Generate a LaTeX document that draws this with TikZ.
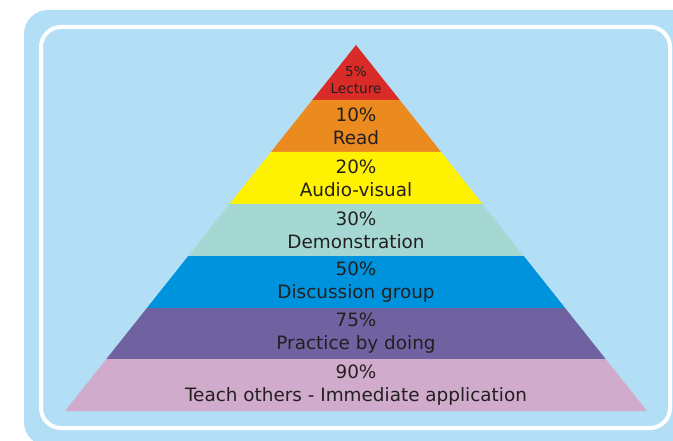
\documentclass[tikz,border=0pt]{standalone}
\usepackage{fontspec}
\setmainfont{DejaVu Sans}
\definecolor{bgblue}{HTML}{B3DFF6}
\definecolor{lvA}{HTML}{D92B27}
\definecolor{lvB}{HTML}{EA8A1F}
\definecolor{lvC}{HTML}{FFF200}
\definecolor{lvD}{HTML}{A6D8D3}
\definecolor{lvE}{HTML}{0093DD}
\definecolor{lvF}{HTML}{7062A1}
\definecolor{lvG}{HTML}{D0ABCC}
\definecolor{txt}{HTML}{231F20}

\begin{document}
\begin{tikzpicture}[x=0.75pt,y=-0.75pt,lbl/.style={align=center,text=txt,inner sep=0pt,font=\fontsize{13.8}{17.2}\selectfont},lblS/.style={lbl,font=\fontsize{10.2}{13.2}\selectfont}]
\def\cx{356}
\def\ay{45}
\def\by{411}
\def\hb{291}
\pgfmathsetmacro{\sl}{\hb/(\by-\ay)}
% half width of the pyramid at height #1
\def\hw#1{(\sl*(#1-\ay))}

\useasboundingbox (0,0) rectangle (673,441);
\clip (0,0) rectangle (673,441);

\fill[bgblue,rounded corners=18] (24,10) rectangle (720,446);
\draw[white,line width=3pt,rounded corners=15] (41,27) rectangle (670,428);

% bands, top to bottom
\fill[lvA] (\cx,\ay) -- ({\cx+\hw{100}},100) -- ({\cx-\hw{100}},100) -- cycle;
\fill[lvB] ({\cx-\hw{100}},100) -- ({\cx+\hw{100}},100) -- ({\cx+\hw{152}},152) -- ({\cx-\hw{152}},152) -- cycle;
\fill[lvC] ({\cx-\hw{152}},152) -- ({\cx+\hw{152}},152) -- ({\cx+\hw{204}},204) -- ({\cx-\hw{204}},204) -- cycle;
\fill[lvD] ({\cx-\hw{204}},204) -- ({\cx+\hw{204}},204) -- ({\cx+\hw{256}},256) -- ({\cx-\hw{256}},256) -- cycle;
\fill[lvE] ({\cx-\hw{256}},256) -- ({\cx+\hw{256}},256) -- ({\cx+\hw{308}},308) -- ({\cx-\hw{308}},308) -- cycle;
\fill[lvF] ({\cx-\hw{308}},308) -- ({\cx+\hw{308}},308) -- ({\cx+\hw{359}},359) -- ({\cx-\hw{359}},359) -- cycle;
\fill[lvG] ({\cx-\hw{359}},359) -- ({\cx+\hw{359}},359) -- ({\cx+\hw{411}},411) -- ({\cx-\hw{411}},411) -- cycle;

% labels
\node[lblS] (lecture) at (\cx,80) {5\%\\Lecture};
\node[lbl] (read) at (\cx,126) {10\%\\Read};
\node[lbl] (audio) at (\cx,178) {20\%\\Audio-visual};
\node[lbl] (demo) at (\cx,230) {30\%\\Demonstration};
\node[lbl] (discuss) at (\cx,282) {50\%\\Discussion group};
\node[lbl] (practice) at (\cx,333.5) {75\%\\Practice by doing};
\node[lbl] (teach) at (\cx,385) {90\%\\Teach others - Immediate application};
\end{tikzpicture}
\end{document}
